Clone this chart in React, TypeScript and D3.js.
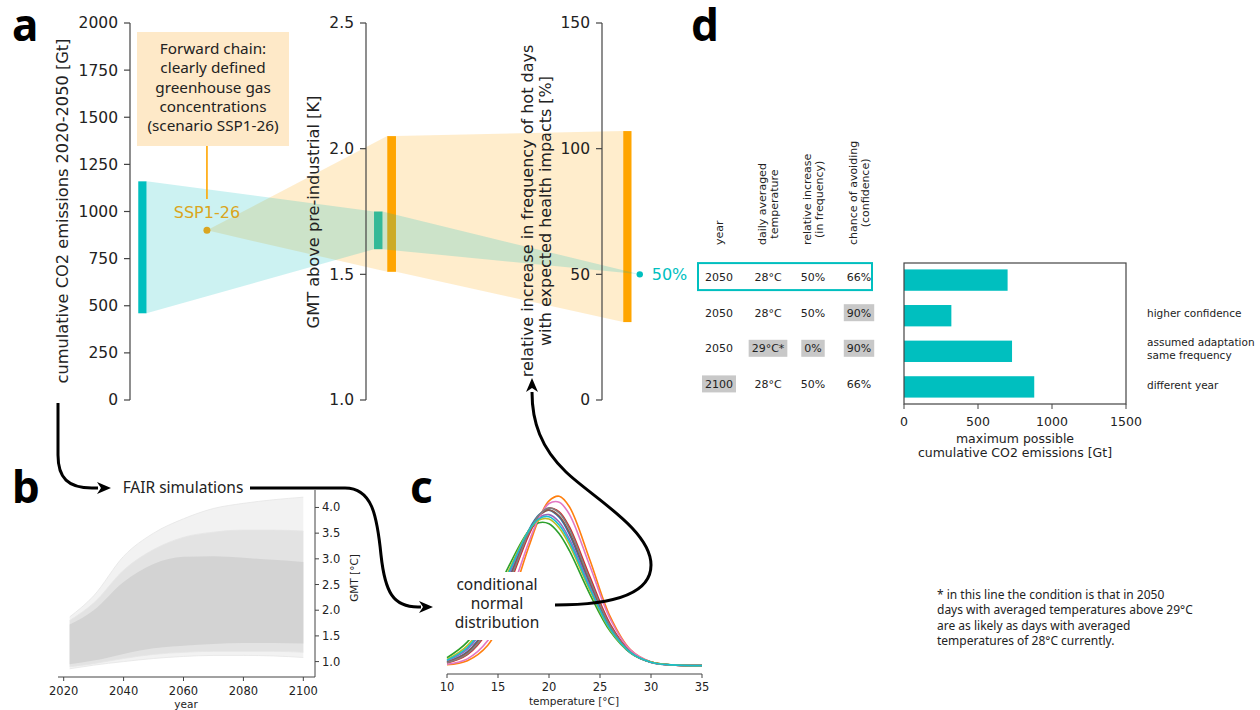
import React from 'react';
import * as d3 from 'd3';

const DV = "'DejaVu Sans', sans-serif";
const NS = "'Noto Sans', sans-serif";
const TEAL = '#00bfbf';
const ORANGE = '#ffa500';
const GOLD = '#daa520';
const INK = '#222';
const SPINE = '#444';

// ---------- panel a: forward chain
const emissionTicks = [0, 250, 500, 750, 1000, 1250, 1500, 1750, 2000];
const gmtTicks = [1.0, 1.5, 2.0, 2.5];
const hotDayTicks = [0, 50, 100, 150];
const emissionRange = [460, 1160];
const sspEmission = 900;
const gmtFromEmission = [1.6, 1.75];
const gmtFromSsp = [1.51, 2.05];
const hotDaysFromSsp = [31, 107];
const hotDayTarget = 50;
const boxLines = ['Forward chain:', 'clearly defined', 'greenhouse gas', 'concentrations', '(scenario SSP1-26)'];

// ---------- panel b: FAIR simulations (quantile envelopes of the runs)
const simYears = [2022, 2030, 2040, 2050, 2060, 2070, 2080, 2090, 2100];
const gmtMin = [0.86, 0.93, 1.0, 1.06, 1.1, 1.12, 1.12, 1.11, 1.08];
const gmtP02 = [0.9, 0.96, 1.06, 1.14, 1.18, 1.2, 1.2, 1.2, 1.18];
const gmtP10 = [0.95, 1.02, 1.15, 1.26, 1.31, 1.34, 1.36, 1.36, 1.35];
const gmtP90 = [1.72, 2.0, 2.55, 2.9, 3.04, 3.05, 3.02, 2.98, 2.94];
const gmtP98 = [1.8, 2.14, 2.78, 3.18, 3.42, 3.52, 3.56, 3.56, 3.54];
const gmtMax = [1.87, 2.28, 3.05, 3.5, 3.78, 3.98, 4.08, 4.15, 4.2];
const simXTicks = [2020, 2040, 2060, 2080, 2100];
const simYTicks = [1.0, 1.5, 2.0, 2.5, 3.0, 3.5, 4.0];

// ---------- panel c: conditional normal distributions
const temps = [10, 12, 14, 16, 18, 19, 20, 21, 22, 24, 26, 28, 30, 32, 35];
const densBlue = [0.0025, 0.01, 0.0289, 0.0616, 0.0964, 0.1074, 0.1108, 0.1057, 0.0935, 0.0579, 0.0264, 0.0088, 0.0022, 0.0004, 0];
const densOrange = [0.0006, 0.0035, 0.0145, 0.042, 0.0843, 0.1042, 0.1174, 0.1207, 0.1132, 0.0755, 0.0349, 0.0112, 0.0025, 0.0004, 0];
const densGreen = [0.0056, 0.0169, 0.0392, 0.07, 0.0959, 0.1018, 0.1011, 0.094, 0.0819, 0.051, 0.0244, 0.009, 0.0025, 0.0006, 0];
const densRed = [0.0018, 0.0078, 0.0245, 0.0558, 0.0928, 0.1062, 0.1122, 0.1096, 0.0988, 0.0634, 0.0296, 0.01, 0.0025, 0.0005, 0];
const densPurple = [0.0032, 0.0117, 0.0316, 0.0636, 0.0958, 0.1053, 0.1076, 0.1023, 0.0903, 0.0566, 0.0265, 0.0092, 0.0024, 0.0005, 0];
const densBrown = [0.0023, 0.0094, 0.0276, 0.0598, 0.095, 0.1066, 0.1108, 0.1066, 0.095, 0.0598, 0.0276, 0.0094, 0.0023, 0.0004, 0];
const densPink = [0.0009, 0.0048, 0.0178, 0.047, 0.0876, 0.105, 0.1155, 0.1165, 0.1078, 0.0711, 0.0332, 0.011, 0.0026, 0.0004, 0];
const densGray = [0.002, 0.0083, 0.0257, 0.0577, 0.0944, 0.1071, 0.1124, 0.1088, 0.0974, 0.0615, 0.0282, 0.0095, 0.0023, 0.0004, 0];
const densOlive = [0.0043, 0.0142, 0.0354, 0.067, 0.0961, 0.1037, 0.1044, 0.0981, 0.086, 0.0537, 0.0254, 0.0091, 0.0025, 0.0005, 0];
const densCyan = [0.0038, 0.0129, 0.0335, 0.0654, 0.096, 0.1046, 0.1061, 0.1002, 0.0882, 0.0551, 0.026, 0.0092, 0.0024, 0.0005, 0];
const densities = [densBlue, densOrange, densGreen, densRed, densPurple, densBrown, densPink, densGray, densOlive, densCyan];
const tab10 = ['#1f77b4', '#ff7f0e', '#2ca02c', '#d62728', '#9467bd', '#8c564b', '#e377c2', '#7f7f7f', '#bcbd22', '#17becf'];
const tempTicks = [10, 15, 20, 25, 30, 35];

// ---------- panel d: table + bars
const headers = [['year'], ['daily averaged', 'temperature'], ['relative increase', '(in frequency)'], ['chance of avoiding', '(confidence)']];
const rowYear = ['2050', '2050', '2050', '2100'];
const rowTemp = ['28°C', '28°C', '29°C*', '28°C'];
const rowIncrease = ['50%', '50%', '0%', '50%'];
const rowChance = ['66%', '90%', '90%', '66%'];
const changedCells = [[], [3], [1, 2, 3], [0]];
const maxEmissions = [700, 320, 730, 880];
const rowNotes = [[], ['higher confidence'], ['assumed adaptation', 'same frequency'], ['different year']];
const barTicks = [0, 500, 1000, 1500];
const footnote = [
  '* in this line the condition is that in 2050',
  'days with averaged temperatures above 29°C',
  'are as likely as days with averaged',
  'temperatures of 28°C currently.',
];

let measureCtx: CanvasRenderingContext2D | null = null;
function textWidth(s: string, font: string) {
  if (!measureCtx) measureCtx = document.createElement('canvas').getContext('2d');
  measureCtx!.font = font;
  return measureCtx!.measureText(s).width;
}

function head(tip: [number, number], dir: 'right' | 'up') {
  const [x, y] = tip;
  if (dir === 'right') return `M${x},${y}L${x - 14},${y - 6}L${x - 10},${y}L${x - 14},${y + 6}Z`;
  return `M${x},${y}L${x - 6},${y + 14}L${x},${y + 10}L${x + 6},${y + 14}Z`;
}

function VAxis({ x, scale, ticks, fmt }: any) {
  const [r0, r1] = scale.range();
  return (
    <g>
      <line x1={x} x2={x} y1={r0} y2={r1} stroke={SPINE} strokeWidth={1.2} />
      {ticks.map((t: number) => (
        <g key={t}>
          <line x1={x - 6} x2={x} y1={scale(t)} y2={scale(t)} stroke={SPINE} strokeWidth={1.2} />
          <text x={x - 12} y={scale(t)} dy="0.35em" textAnchor="end" fontSize={15.5} fontFamily={DV} fill={INK}>
            {fmt(t)}
          </text>
        </g>
      ))}
    </g>
  );
}

export default function App() {
  // panel a
  const xA = d3.scaleLinear([0, 2], [130, 602]);
  const yEm = d3.scaleLinear([0, 2000], [400, 23]);
  const yGmt = d3.scaleLinear([1, 2.5], [400, 23]);
  const yHot = d3.scaleLinear([0, 150], [400, 23]);
  const poly = (pts: [number, number][]) => d3.line()(pts) + 'Z';

  const emBar = [0.035, 0.07];
  const gmtTealBar = [1.034, 1.07];
  const gmtOrangeBar = [1.09, 1.127];
  const hotBar = [2.09, 2.125];
  const sspX = 0.326;
  const targetX = 2.16;

  const tealFan1 = poly([
    [xA(emBar[1]), yEm(emissionRange[1])],
    [xA(gmtTealBar[0]), yGmt(gmtFromEmission[1])],
    [xA(gmtTealBar[0]), yGmt(gmtFromEmission[0])],
    [xA(emBar[1]), yEm(emissionRange[0])],
  ]);
  const tealFan2 = poly([
    [xA(gmtTealBar[1]), yGmt(gmtFromEmission[1])],
    [xA(targetX), yHot(hotDayTarget)],
    [xA(gmtTealBar[1]), yGmt(gmtFromEmission[0])],
  ]);
  const orangeFan1 = poly([
    [xA(sspX), yEm(sspEmission)],
    [xA(gmtOrangeBar[0]), yGmt(gmtFromSsp[1])],
    [xA(gmtOrangeBar[0]), yGmt(gmtFromSsp[0])],
  ]);
  const orangeFan2 = poly([
    [xA(gmtOrangeBar[1]), yGmt(gmtFromSsp[1])],
    [xA(hotBar[0]), yHot(hotDaysFromSsp[1])],
    [xA(hotBar[0]), yHot(hotDaysFromSsp[0])],
    [xA(gmtOrangeBar[1]), yGmt(gmtFromSsp[0])],
  ]);

  // panel b
  const xB = d3.scaleLinear([2018.1, 2103.9], [58, 315]);
  const yB = d3.scaleLinear([0.7, 4.34], [677, 490]);
  const band = (lo: number[], hi: number[]) =>
    d3.area<number>()
      .x((_, i) => xB(simYears[i]))
      .y0((_, i) => yB(lo[i]))
      .y1((_, i) => yB(hi[i]))
      .curve(d3.curveMonotoneX)(simYears) as string;
  const simLine = (v: number[]) =>
    d3.line<number>().x((_, i) => xB(simYears[i])).y((d) => yB(d)).curve(d3.curveMonotoneX)(v) as string;

  // panel c
  const xC = d3.scaleLinear([10, 35], [447, 702]);
  const yC = d3.scaleLinear([-0.006, 0.128], [674, 486]);
  const densLine = d3.line<number>().x((_, i) => xC(temps[i])).y((d) => yC(d)).curve(d3.curveCatmullRom);

  // panel d
  const xD = d3.scaleLinear([0, 1500], [904, 1126]);
  const yD = d3.scaleLinear([-0.48, 3.48], [263, 404]);
  const colX = [719, 768, 813, 859];
  const rows = rowYear.map((y, i) => [y, rowTemp[i], rowIncrease[i], rowChance[i]]);
  const cellFont = `11px ${DV}`;
  const headBottom = 245;

  const arrow1 = 'M58,403 L58,455 C58,478 68,488 92,488 L98,488';
  const arrow2 = 'M250,488 L345,488 C372,488 377,515 381,555 C385,592 393,607 418,607 L421,607';
  const arrow3 = 'M555,605 C612,605 651,594 651,565 C651,530 592,497 566,472 C541,448 532,422 532,392';

  return (
    <svg width={1260} height={710} style={{ position: 'absolute', left: 0, top: 0, background: '#fff' }}>
      {/* ===== panel a ===== */}
      <g>
        <rect x={xA(emBar[0])} width={xA(emBar[1]) - xA(emBar[0])} y={yEm(emissionRange[1])} height={yEm(emissionRange[0]) - yEm(emissionRange[1])} fill={TEAL} />
        <rect x={xA(gmtTealBar[0])} width={xA(gmtTealBar[1]) - xA(gmtTealBar[0])} y={yGmt(gmtFromEmission[1])} height={yGmt(gmtFromEmission[0]) - yGmt(gmtFromEmission[1])} fill={TEAL} />
        <rect x={xA(gmtOrangeBar[0])} width={xA(gmtOrangeBar[1]) - xA(gmtOrangeBar[0])} y={yGmt(gmtFromSsp[1])} height={yGmt(gmtFromSsp[0]) - yGmt(gmtFromSsp[1])} fill={ORANGE} />
        <rect x={xA(hotBar[0])} width={xA(hotBar[1]) - xA(hotBar[0])} y={yHot(hotDaysFromSsp[1])} height={yHot(hotDaysFromSsp[0]) - yHot(hotDaysFromSsp[1])} fill={ORANGE} />
        <path d={orangeFan1} fill={ORANGE} fillOpacity={0.2} />
        <path d={orangeFan2} fill={ORANGE} fillOpacity={0.2} />
        <path d={tealFan1} fill={TEAL} fillOpacity={0.2} />
        <path d={tealFan2} fill={TEAL} fillOpacity={0.2} />

        <VAxis x={xA(0)} scale={yEm} ticks={emissionTicks} fmt={(t: number) => String(t)} />
        <VAxis x={xA(1)} scale={yGmt} ticks={gmtTicks} fmt={d3.format('.1f')} />
        <VAxis x={xA(2)} scale={yHot} ticks={hotDayTicks} fmt={(t: number) => String(t)} />

        <text transform="translate(62,211) rotate(-90)" dy="0.35em" textAnchor="middle" fontSize={16.2} fontFamily={DV} fill={INK}>
          cumulative CO2 emissions 2020-2050 [Gt]
        </text>
        <text transform="translate(313,212) rotate(-90)" dy="0.35em" textAnchor="middle" fontSize={16.2} fontFamily={DV} fill={INK}>
          GMT above pre-industrial [K]
        </text>
        <text transform="translate(527,211) rotate(-90)" dy="0.35em" textAnchor="middle" fontSize={16} fontFamily={DV} fill={INK}>
          relative increase in frequency of hot days
        </text>
        <text transform="translate(545,211) rotate(-90)" dy="0.35em" textAnchor="middle" fontSize={16} fontFamily={DV} fill={INK}>
          with expected health impacts [%]
        </text>

        <rect x={137} y={32} width={152} height={114} fill="#fee9c8" />
        {boxLines.map((l, i) => (
          <text key={l} x={213} y={54 + i * 19.3} textAnchor="middle" fontSize={15.3} fontFamily={NS} fill={INK}>
            {l}
          </text>
        ))}
        <line x1={xA(sspX)} x2={xA(sspX)} y1={146} y2={199} stroke={ORANGE} strokeWidth={1.6} />
        <text x={xA(sspX)} y={218} textAnchor="middle" fontSize={16} fontFamily={DV} fill={GOLD}>SSP1-26</text>
        <circle cx={xA(sspX)} cy={yEm(sspEmission)} r={3.5} fill={GOLD} />

        <circle cx={xA(targetX)} cy={yHot(hotDayTarget)} r={3.2} fill={TEAL} />
        <text x={xA(targetX) + 12} y={yHot(hotDayTarget)} dy="0.35em" fontSize={16} fontFamily={DV} fill={TEAL}>
          {hotDayTarget}%
        </text>
      </g>

      {/* ===== panel b ===== */}
      <g>
        <path d={band(gmtMin, gmtMax)} fill="#f2f2f2" />
        <path d={band(gmtP02, gmtP98)} fill="#e3e3e3" />
        <path d={band(gmtP10, gmtP90)} fill="#d3d3d3" />
        {[gmtMin, gmtP02, gmtP98, gmtMax].map((v, i) => (
          <path key={i} d={simLine(v)} fill="none" stroke="#e6e6e6" strokeWidth={0.8} />
        ))}
        <line x1={58} x2={315} y1={677} y2={677} stroke={SPINE} strokeWidth={1} />
        <line x1={315} x2={315} y1={490} y2={677} stroke={SPINE} strokeWidth={1} />
        {simXTicks.map((t) => (
          <g key={t}>
            <line x1={xB(t)} x2={xB(t)} y1={677} y2={681} stroke={SPINE} />
            <text x={xB(t)} y={691} dy="0.35em" textAnchor="middle" fontSize={11.5} fontFamily={DV} fill={INK}>{t}</text>
          </g>
        ))}
        {simYTicks.map((t) => (
          <g key={t}>
            <line x1={315} x2={319} y1={yB(t)} y2={yB(t)} stroke={SPINE} />
            <text x={322} y={yB(t)} dy="0.35em" fontSize={11.5} fontFamily={DV} fill={INK}>{t.toFixed(1)}</text>
          </g>
        ))}
        <text x={186} y={704} dy="0.35em" textAnchor="middle" fontSize={10.5} fontFamily={DV} fill={INK}>year</text>
        <text transform="translate(354,578) rotate(-90)" dy="0.35em" textAnchor="middle" fontSize={10.5} fontFamily={DV} fill={INK}>
          GMT [°C]
        </text>
      </g>

      {/* ===== panel c ===== */}
      <g>
        {densities.map((v, i) => (
          <path key={i} d={densLine(v) as string} fill="none" stroke={tab10[i]} strokeWidth={1.6} />
        ))}
        <line x1={447} x2={702} y1={674} y2={674} stroke={SPINE} />
        {tempTicks.map((t) => (
          <g key={t}>
            <line x1={xC(t)} x2={xC(t)} y1={674} y2={678} stroke={SPINE} />
            <text x={xC(t)} y={687} dy="0.35em" textAnchor="middle" fontSize={11.5} fontFamily={DV} fill={INK}>{t}</text>
          </g>
        ))}
        <text x={574} y={701} dy="0.35em" textAnchor="middle" fontSize={10.5} fontFamily={DV} fill={INK}>temperature [°C]</text>
        <rect x={452} y={572} width={91} height={68} fill="#fff" />
        {['conditional', 'normal', 'distribution'].map((l, i) => (
          <text key={l} x={497} y={590 + i * 19} textAnchor="middle" fontSize={15.5} fontFamily={NS} fill={INK}>{l}</text>
        ))}
      </g>

      {/* ===== flow arrows ===== */}
      <g fill="none" stroke="#000" strokeWidth={3}>
        <path d={arrow1} />
        <path d={arrow2} />
        <path d={arrow3} />
      </g>
      <path d={head([111, 488], 'right')} fill="#000" />
      <path d={head([433, 607], 'right')} fill="#000" />
      <path d={head([532, 378], 'up')} fill="#000" />
      <text x={183} y={488} dy="0.35em" textAnchor="middle" fontSize={15.5} fontFamily={NS} fill={INK}>FAIR simulations</text>

      {/* ===== panel d ===== */}
      <g>
        {headers.map((lines, j) => {
          const longest = Math.max(...lines.map((l) => textWidth(l, cellFont)));
          const cy = headBottom - longest / 2;
          return lines.map((l, k) => {
            const lx = lines.length === 1 ? colX[j] : colX[j] - 6 + k * 12.5;
            return (
              <text key={l} transform={`translate(${lx},${cy}) rotate(-90)`} dy="0.35em" textAnchor="middle" fontSize={11} fontFamily={DV} fill={INK}>
                {l}
              </text>
            );
          });
        })}
        {rows.map((cells, i) => (
          <g key={i}>
            {cells.map((c, j) => {
              const cy = yD(i) - 3;
              const hl = (changedCells[i] as number[]).includes(j);
              const w = textWidth(c, cellFont);
              return (
                <g key={j}>
                  {hl && <rect x={colX[j] - w / 2 - 3} y={cy - 8.5} width={w + 6} height={17} fill="#c8c8c8" />}
                  <text x={colX[j]} y={cy} dy="0.35em" textAnchor="middle" fontSize={11} fontFamily={DV} fill={INK}>{c}</text>
                </g>
              );
            })}
          </g>
        ))}
        <rect x={698} y={yD(0) - 17} width={174} height={27} fill="none" stroke={TEAL} strokeWidth={2} />

        {maxEmissions.map((v, i) => (
          <rect key={i} x={xD(0)} y={yD(i - 0.3)} width={xD(v) - xD(0)} height={yD(i + 0.3) - yD(i - 0.3)} fill={TEAL} />
        ))}
        <rect x={904} y={263} width={222} height={141} fill="none" stroke={SPINE} strokeWidth={1.2} />
        {barTicks.map((t) => (
          <g key={t}>
            <line x1={xD(t)} x2={xD(t)} y1={404} y2={409} stroke={SPINE} />
            <text x={xD(t)} y={422} dy="0.35em" textAnchor="middle" fontSize={12.5} fontFamily={DV} fill={INK}>{t}</text>
          </g>
        ))}
        <text x={1015} y={439} dy="0.35em" textAnchor="middle" fontSize={12.5} fontFamily={DV} fill={INK}>maximum possible</text>
        <text x={1015} y={453} dy="0.35em" textAnchor="middle" fontSize={12.5} fontFamily={DV} fill={INK}>cumulative CO2 emissions [Gt]</text>
        {rowNotes.map((lines, i) =>
          lines.map((l, k) => (
            <text key={l} x={1147} y={yD(i) - 2 - (lines.length - 1) * 6.5 + k * 13} dy="0.35em" fontSize={10.5} fontFamily={DV} fill={INK}>
              {l}
            </text>
          ))
        )}
      </g>

      {footnote.map((l, i) => (
        <text key={i} x={937} y={599 + i * 15.3} fontSize={12} fontFamily={NS} fill={INK}>{l}</text>
      ))}

      {/* panel letters */}
      <g fontFamily={NS} fontWeight="bold" fontSize={44} fill="#000">
        <text x={12} y={41}>a</text>
        <text x={12} y={503}>b</text>
        <text x={410} y={503}>c</text>
        <text x={691} y={41}>d</text>
      </g>
    </svg>
  );
}
